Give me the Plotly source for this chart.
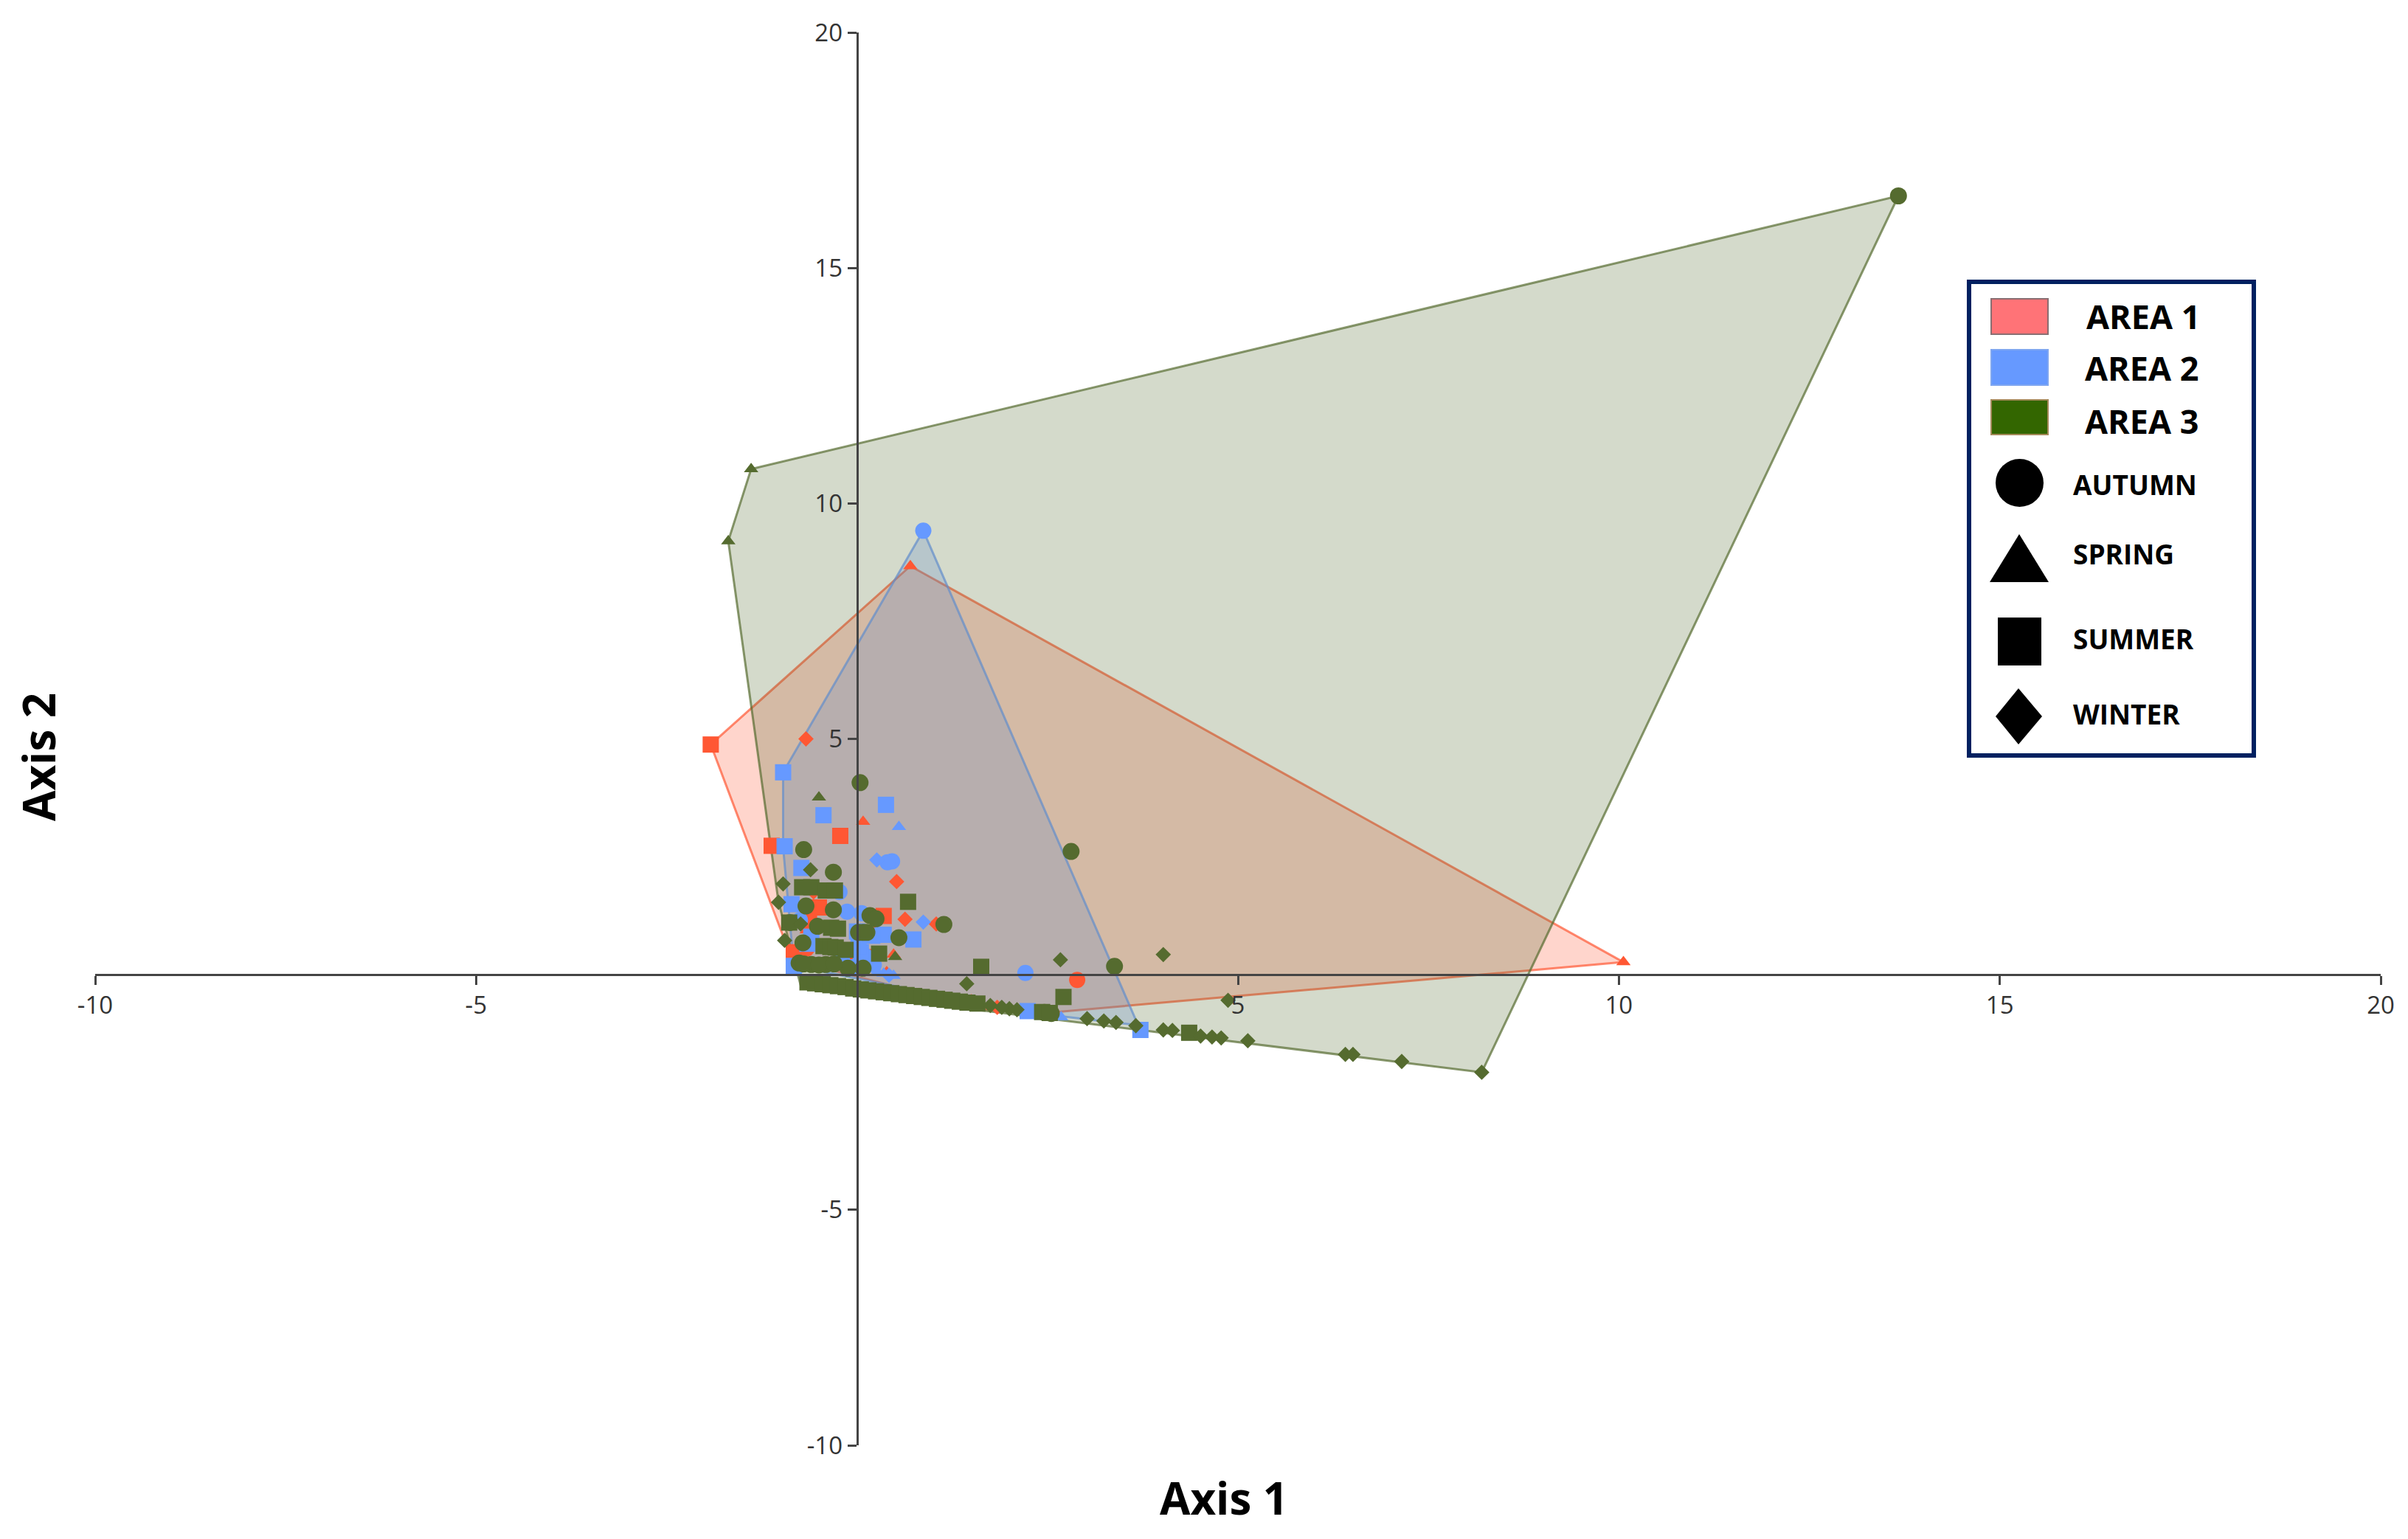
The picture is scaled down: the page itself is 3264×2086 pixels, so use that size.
import plotly.graph_objects as go

W, H = 3264, 2086
RED, BLUE, GREEN = "#FF5733", "#6699FF", "#556B2F"

# convex hulls (Axis 1, Axis 2)
hull_a1_x = [-1.92, 0.70, 10.06, 2.40, 1.70, -0.85, -1.92]
hull_a1_y = [4.88, 8.67, 0.26, -0.83, -0.75, 0.30, 4.88]
hull_a2_x = [-0.97, 0.87, 3.69, 2.20, -0.83, -0.97, -0.97]
hull_a2_y = [4.29, 9.42, -1.08, -0.80, 0.18, 2.70, 4.29]
hull_a3_x = [13.67, 8.20, -0.73, -1.03, -1.69, -1.39, 13.67]
hull_a3_y = [16.53, -2.08, -0.29, 1.53, 9.20, 10.73, 16.53]

# AREA 1
a1_autumn_x = [2.89, -0.66, 0.12]
a1_autumn_y = [-0.12, 0.55, 0.20]
a1_spring_x = [0.70, 10.06, 0.08, 0.48, 0.39, 0.24, -0.66]
a1_spring_y = [8.67, 0.26, 3.24, 0.42, 0.05, 0.94, 0.94]
a1_summer_x = [-1.92, -1.12, -0.22, -0.50, 0.35, -0.63, 0.11, -0.83]
a1_summer_y = [4.88, 2.73, 2.94, 1.42, 1.24, 1.18, 0.37, 0.47]
a1_winter_x = [-0.67, 0.52, 0.63, 1.04, -0.57, 1.84, 1.50, -0.12]
a1_winter_y = [5.00, 1.97, 1.17, 1.07, 1.75, -0.70, -0.58, 0.29]

# AREA 2
a2_autumn_x = [0.87, 0.46, 0.40, -0.23, -0.13, 2.21, 0.06, -0.75, 0.22, 0.10]
a2_autumn_y = [9.42, 2.40, 2.38, 1.75, 1.33, 0.03, 1.30, 1.15, 0.20, 0.40]
a2_spring_x = [0.55, 0.48, 2.68, 0.27, -0.80, 0.35]
a2_spring_y = [3.13, -0.03, -0.91, 0.05, 0.10, 0.02]
a2_summer_x = [-0.97, 0.38, -0.44, -0.95, -0.73, -0.86, 0.00, 0.35, 0.74, -0.65, 0.05, 2.24, 3.72, -0.83, -0.10, 0.20, -0.60, -0.20, 0.02]
a2_summer_y = [4.29, 3.60, 3.38, 2.72, 2.26, 1.49, 0.91, 0.84, 0.74, 0.65, 0.47, -0.78, -1.18, 0.18, 0.15, 0.82, 0.80, 0.30, 0.60]
a2_winter_x = [0.26, 0.87, -0.20, 0.42]
a2_winter_y = [2.43, 1.11, 0.22, -0.02]

# AREA 3
a3_autumn_x = [13.67, 0.04, -0.70, -0.31, -0.67, -0.31, 0.17, 1.14, 0.55, 0.08, -0.71, -0.52,
               -0.12, 0.08, -0.76, -0.60, -0.41, 2.81, 3.38, 2.46, 2.55, -0.70, -0.50, -0.30, -0.88, 0.25, 0.02, 0.13]
a3_autumn_y = [16.53, 4.07, 2.65, 2.17, 1.45, 1.37, 1.25, 1.06, 0.78, 0.89, 0.67, 1.02,
               0.13, 0.13, 0.24, 0.21, 0.21, 2.61, 0.17, -0.81, -0.83, 0.22, 0.20, 0.22, 1.10, 1.18, 0.89, 0.89]
a3_spring_x = [-1.39, -1.69, -0.50, 0.50]
a3_spring_y = [10.73, 9.20, 3.76, 0.37]
a3_summer_x = [-0.72, -0.60, -0.41, -0.29, 0.67, -0.89, -0.34, -0.25, -0.44, -0.35, -0.28, -0.15, 0.29,
               1.63, 2.71, 4.36, -0.65, -0.55, -0.45, -0.35, -0.25, -0.15, -0.05, 0.05, 0.15, 0.25,
               0.35, 0.45, 0.55, 0.65, 0.75, 0.85, 0.95, 1.05, 1.15, 1.25, 1.35, 1.45, 1.58, 2.43, 2.53]
a3_summer_y = [1.85, 1.85, 1.78, 1.78, 1.54, 1.10, 0.99, 0.97, 0.60, 0.58, 0.57, 0.52, 0.44,
               0.16, -0.48, -1.24, -0.17, -0.19, -0.21, -0.23, -0.25, -0.27, -0.30, -0.32, -0.34, -0.36,
               -0.38, -0.40, -0.42, -0.44, -0.46, -0.48, -0.50, -0.52, -0.54, -0.56, -0.58, -0.60, -0.62, -0.80, -0.82]
a3_winter_x = [-0.61, -0.97, -1.03, -0.74, -0.95, 1.44, 2.67, 4.02, 4.87, 2.00, 2.10, 3.02, 3.24, 3.40, 3.66,
               4.02, 4.14, 4.51, 4.66, 4.78, 5.13, 6.41, 6.51, 7.15, 8.20, 1.75, 1.90]
a3_winter_y = [2.22, 1.92, 1.53, 1.07, 0.72, -0.20, 0.31, 0.42, -0.55, -0.73, -0.75, -0.94, -0.99, -1.02, -1.09,
               -1.18, -1.19, -1.31, -1.33, -1.35, -1.41, -1.70, -1.70, -1.85, -2.08, -0.66, -0.70]

tick_vals_x = [-10, -5, 5, 10, 15, 20]
tick_text_x = ["-10", "-5", "5", "10", "15", "20"]
tick_vals_y = [-10, -5, 5, 10, 15, 20]
tick_text_y = ["-10", "-5", "5", "10", "15", "20"]

fig = go.Figure()

def rgba(h, a):
    return f"rgba({int(h[1:3],16)},{int(h[3:5],16)},{int(h[5:7],16)},{a})"

for hx, hy, c in [(hull_a1_x, hull_a1_y, RED), (hull_a2_x, hull_a2_y, BLUE), (hull_a3_x, hull_a3_y, GREEN)]:
    fig.add_trace(go.Scatter(x=hx, y=hy, mode="lines", fill="toself", fillcolor=rgba(c, 0.25),
                             line=dict(color=rgba(c, 0.7), width=3), hoverinfo="skip"))

series = [
    (a1_autumn_x, a1_autumn_y, RED, "circle", 22), (a1_spring_x, a1_spring_y, RED, "triangle-up", 17),
    (a1_summer_x, a1_summer_y, RED, "square", 22), (a1_winter_x, a1_winter_y, RED, "diamond", 16),
    (a2_autumn_x, a2_autumn_y, BLUE, "circle", 22), (a2_spring_x, a2_spring_y, BLUE, "triangle-up", 17),
    (a2_summer_x, a2_summer_y, BLUE, "square", 22), (a2_winter_x, a2_winter_y, BLUE, "diamond", 16),
    (a3_autumn_x, a3_autumn_y, GREEN, "circle", 23), (a3_spring_x, a3_spring_y, GREEN, "triangle-up", 17),
    (a3_summer_x, a3_summer_y, GREEN, "square", 22), (a3_winter_x, a3_winter_y, GREEN, "diamond", 16),
]
for sx, sy, c, sym, size in series:
    fig.add_trace(go.Scatter(x=sx, y=sy, mode="markers", marker=dict(color=c, symbol=sym, size=size, line_width=0)))

def px(v): return v / W
def py(v): return 1 - v / H

axis_style = dict(showgrid=False, zeroline=False, showline=True, linecolor="#444444", linewidth=3,
                  ticks="outside", ticklen=12, tickwidth=3, tickcolor="#444444",
                  tickfont=dict(family="Open Sans", size=33, color="#333333"), anchor="free", fixedrange=True)

fig.update_layout(
    width=W, height=H, margin=dict(l=0, r=0, t=0, b=0, autoexpand=False),
    paper_bgcolor="white", plot_bgcolor="white", showlegend=False,
    xaxis=dict(range=[-10, 20], domain=[px(129), px(3227)], tickvals=tick_vals_x, ticktext=tick_text_x, position=py(1320.7), **axis_style),
    yaxis=dict(range=[-10, 20], domain=[py(1959), py(44)], tickvals=tick_vals_y, ticktext=tick_text_y, position=px(1161.7), **axis_style),
)

shapes = [
    dict(type="rect", x0=px(2669), x1=px(3055), y0=py(382), y1=py(1024), line=dict(color="#002060", width=6), fillcolor="white"),
    dict(type="rect", x0=px(2699), x1=px(2776), y0=py(405), y1=py(453), line=dict(color="#8A6E72", width=2), fillcolor="#FF7377"),
    dict(type="rect", x0=px(2699), x1=px(2776), y0=py(474), y1=py(522), line=dict(color="#7FA6F0", width=2), fillcolor="#6699FF"),
    dict(type="rect", x0=px(2699), x1=px(2776), y0=py(542), y1=py(589), line=dict(color="#A58A5A", width=2), fillcolor="#336600"),
    dict(type="circle", x0=px(2705), x1=px(2770), y0=py(622), y1=py(687), fillcolor="black", line_width=0),
    dict(type="path", path=f"M {px(2697)} {py(789)} L {px(2737)} {py(724)} L {px(2777)} {py(789)} Z", fillcolor="black", line_width=0),
    dict(type="rect", x0=px(2708), x1=px(2767), y0=py(837), y1=py(902), fillcolor="black", line_width=0),
    dict(type="path", path=f"M {px(2705)} {py(971)} L {px(2736)} {py(933)} L {px(2768)} {py(971)} L {px(2736)} {py(1009)} Z", fillcolor="black", line_width=0),
]
for s in shapes:
    s.update(xref="paper", yref="paper", layer="above")
fig.update_layout(shapes=shapes)

def label(text, x, y, size, **kw):
    fig.add_annotation(text=f"<b>{text}</b>", xref="paper", yref="paper", x=px(x), y=py(y), showarrow=False,
                       font=dict(family="Open Sans", size=size, color="black"), xanchor=kw.pop("xanchor", "left"),
                       yanchor="middle", **kw)

label("AREA 1", 2826, 428, 45)
label("AREA 2", 2824, 498, 45)
label("AREA 3", 2824, 570, 45)
label("AUTUMN", 2808, 656, 37)
label("SPRING", 2808, 750, 37)
label("SUMMER", 2808, 865, 37)
label("WINTER", 2808, 967, 37)
label("Axis 1", 1659, 2030, 60, xanchor="center")
label("Axis 2", 52, 1026, 60, xanchor="center", textangle=-90)

fig.write_html("out.html", post_script="document.body.style.margin='0';", config=dict(displayModeBar=False))
